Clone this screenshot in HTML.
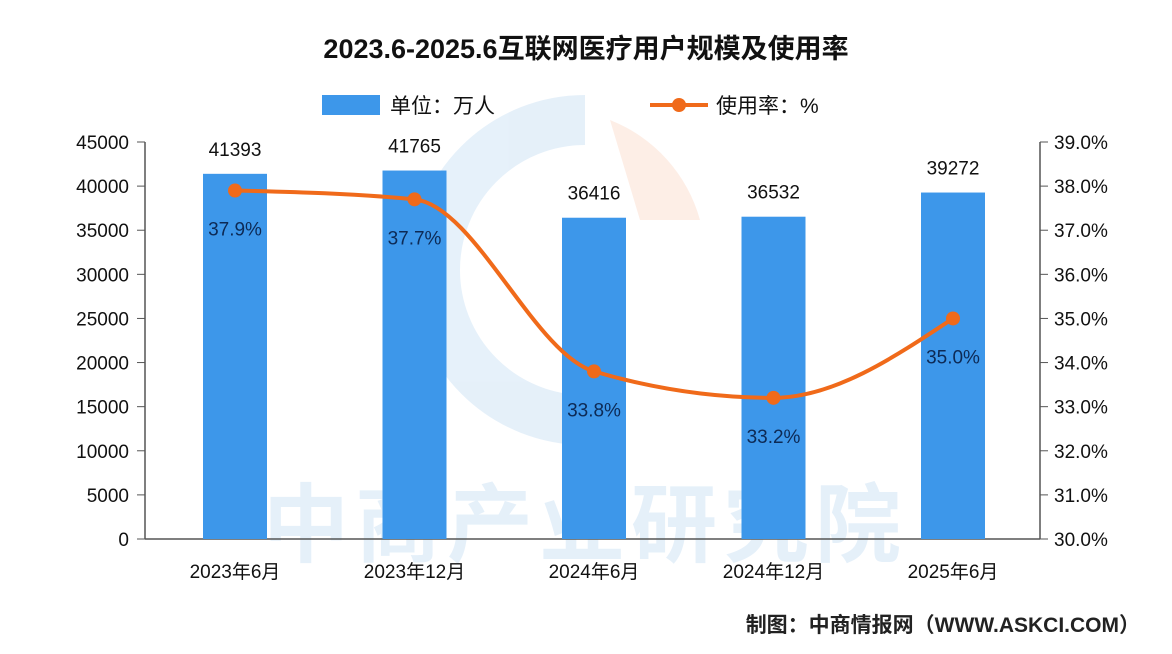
<!DOCTYPE html>
<html><head><meta charset="utf-8"><style>
body{margin:0;background:#fff;}
svg{display:block;font-family:"Liberation Sans","Noto Sans CJK SC",sans-serif;}
</style></head><body>
<svg id="c" width="1172" height="654" viewBox="0 0 1172 654">
<rect width="1172" height="654" fill="#fff"/>
<g opacity="0.13">
<text x="585" y="555" text-anchor="middle" font-size="86" font-weight="bold" fill="#3d8fd8" letter-spacing="6">中商产业研究院</text>
<path d="M585,120 A150,150 0 0 0 585,420" fill="none" stroke="#3d8fd8" stroke-width="50"/>
<path d="M610,120 A150,150 0 0 1 700,220 L640,220 Z" fill="#f0804a"/>
</g>
<text x="586" y="58" text-anchor="middle" font-size="27" font-weight="bold" fill="#111">2023.6-2025.6互联网医疗用户规模及使用率</text>
<g>
<rect x="322" y="95" width="58" height="20" fill="#3d97ea"/>
<text x="390" y="113" font-size="21" fill="#111">单位：万人</text>
<line x1="650" y1="105" x2="708" y2="105" stroke="#f06a1a" stroke-width="4"/>
<circle cx="679" cy="105" r="7" fill="#f06a1a"/>
<text x="716" y="113" font-size="21" fill="#111">使用率：%</text>
</g>
<g id="axes"></g><g id="bars"></g><g id="line"></g>
<text x="1140" y="632" text-anchor="end" font-size="21" font-weight="bold" fill="#222">制图：中商情报网（WWW.ASKCI.COM）</text>
</svg>
<script>
const categories=["2023年6月","2023年12月","2024年6月","2024年12月","2025年6月"];
const users=[41393,41765,36416,36532,39272];
const rates=[37.9,37.7,33.8,33.2,35.0];
const leftTicks=[0,5000,10000,15000,20000,25000,30000,35000,40000,45000];
const rightTicks=[30,31,32,33,34,35,36,37,38,39];
const NS="http://www.w3.org/2000/svg";
const x0=145,x1=1040,yB=539,yT=142;
const yL=v=>yB-(v/45000)*(yB-yT);
const yR=v=>yB-((v-30)/9)*(yB-yT);
const step=179.5,xc=i=>235+i*step;
function mk(t,a,p,txt){const e=document.createElementNS(NS,t);for(const k in a)e.setAttribute(k,a[k]);if(txt!=null)e.textContent=txt;p.appendChild(e);return e;}
const ax=document.getElementById('axes');
let e=mk('line',{x1:x0,y1:yT,x2:x0,y2:yB,stroke:'#555','stroke-width':1.5},ax);


e=mk('line',{x1:x1,y1:yT,x2:x1,y2:yB,stroke:'#555','stroke-width':1.5},ax);


e=mk('line',{x1:x0,y1:yB,x2:x1,y2:yB,stroke:'#555','stroke-width':1.5},ax);


leftTicks.forEach(v=>{const y=yL(v);mk('line',{x1:x0-8,y1:y,x2:x0,y2:y,stroke:'#555'},ax);
e=mk('text',{x:x0-16,y:y+7,'text-anchor':'end','font-size':19,fill:'#111'},ax,v);

});
rightTicks.forEach(v=>{const y=yR(v);mk('line',{x1:x1,y1:y,x2:x1+8,y2:y,stroke:'#555'},ax);
e=mk('text',{x:x1+14,y:y+7,'font-size':19,fill:'#111'},ax,v.toFixed(1)+'%');

});
categories.forEach((c,i)=>{e=mk('text',{x:xc(i),y:578,'text-anchor':'middle','font-size':19,fill:'#111'},ax,c);

});
const bg=document.getElementById('bars');
users.forEach((v,i)=>{e=mk('rect',{x:xc(i)-32,y:yL(v),width:64,height:yB-yL(v),fill:'#3d97ea'},bg);


e=mk('text',{x:xc(i),y:yL(v)-18,'text-anchor':'middle','font-size':19,fill:'#111'},bg,v);

});
const lg=document.getElementById('line');
const pts=rates.map((r,i)=>[xc(i),yR(r)]);
// d3 monotoneX-style tangents
const n=pts.length,s=[],m=[];
for(let i=0;i<n-1;i++)s.push((pts[i+1][1]-pts[i][1])/(pts[i+1][0]-pts[i][0]));
const sg=v=>v<0?-1:v>0?1:0;
for(let i=1;i<n-1;i++){const p=(s[i-1]+s[i])/2;m[i]=(sg(s[i-1])+sg(s[i]))*Math.min(Math.abs(s[i-1]),Math.abs(s[i]),0.5*Math.abs(p))||0;}
m[0]=(3*s[0]-m[1])/2;m[n-1]=(3*s[n-2]-m[n-2])/2;
let d='M'+pts[0][0]+','+pts[0][1];
for(let i=0;i<n-1;i++){const h=(pts[i+1][0]-pts[i][0])/3;
d+=' C'+(pts[i][0]+h)+','+(pts[i][1]+m[i]*h)+' '+(pts[i+1][0]-h)+','+(pts[i+1][1]-m[i+1]*h)+' '+pts[i+1][0]+','+pts[i+1][1];}
e=mk('path',{d:d,fill:'none',stroke:'#f06a1a','stroke-width':4},lg);


rates.forEach((r,i)=>{e=mk('circle',{cx:pts[i][0],cy:pts[i][1],r:7,fill:'#f06a1a'},lg);


e=mk('text',{x:pts[i][0],y:pts[i][1]+45,'text-anchor':'middle','font-size':19,fill:'#0d2a55'},lg,r.toFixed(1)+'%');

});
</script>
</body></html>
